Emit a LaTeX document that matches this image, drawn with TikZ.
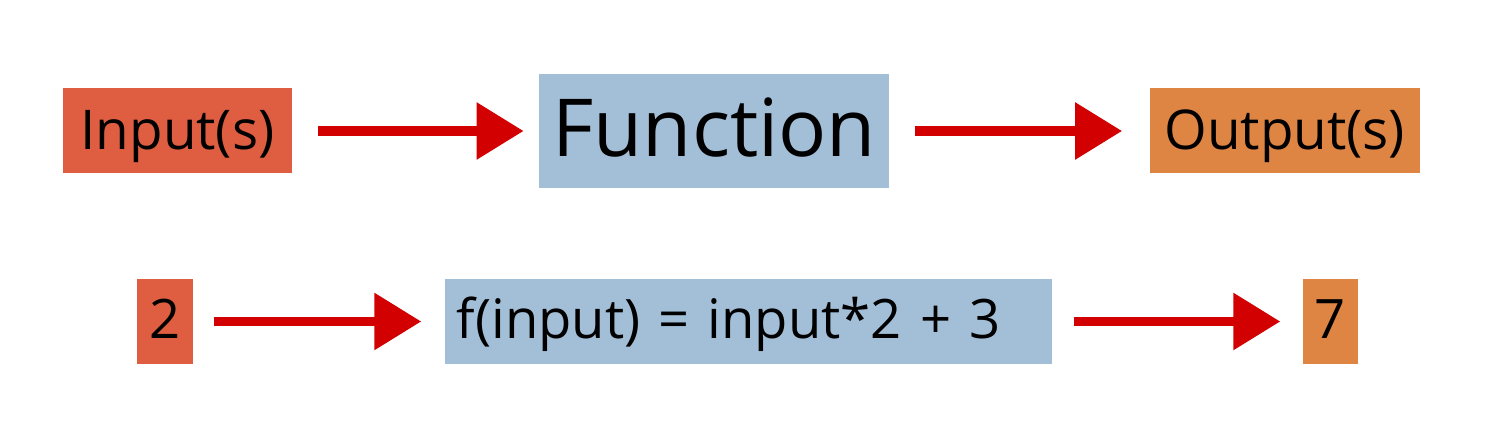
\documentclass[tikz,border=0pt]{standalone}
\usepackage{fontspec}
\setmainfont{Open Sans}
\usetikzlibrary{arrows.meta}
\definecolor{inred}{HTML}{DF5E42}
\definecolor{fnblue}{HTML}{A3BFD8}
\definecolor{outorange}{HTML}{DF8544}
\definecolor{arrowred}{HTML}{D20000}
\begin{document}
\begin{tikzpicture}[x=0.5pt,y=-0.5pt,
  box/.style={inner sep=0pt, font=\fontsize{27.4}{33}\selectfont, text height=30.35pt, text depth=12.15pt, align=center},
  lowbox/.style={box, font=\fontsize{27.2}{33}\selectfont, text height=30pt, text depth=12.85pt},
  bigbox/.style={inner sep=0pt, font=\fontsize{40}{48}\selectfont, text height=41.35pt, text depth=15.8pt, align=center},
  flow/.style={draw=arrowred, line width=4.65pt, -{Triangle[length=23.5pt,width=27.5pt]}}]
\useasboundingbox (0,0) rectangle (1497,443);
% top row
\node[box, fill=inred, minimum width=114.2pt] (in) at (177.5,131) {Input(s)};
\node[bigbox, fill=fnblue, minimum width=175pt] (fn) at (714.3,131) {Function};
\node[box, fill=outorange, minimum width=135.25pt] (out) at (1284.75,131) {Output(s)};
% bottom row
\node[lowbox, fill=inred, minimum width=27.7pt] (two) at (165,321.5) {2};
\node[lowbox, fill=fnblue, inner xsep=5.85pt, text width=291.95pt, align=left] (fx) at (748.65,321.5) {f(input) = input*2 + 3};
\node[lowbox, fill=outorange, minimum width=27.8pt] (seven) at (1330.5,321.5) {7};
% arrows
\draw[flow, shorten <=12.85pt, shorten >=7.65pt] (in.east) -- (fn.west);
\draw[flow, shorten <=12.5pt, shorten >=13.5pt] (fn.east) -- (out.west);
\draw[flow, shorten <=10.65pt, shorten >=11.65pt] (two.east) -- (fx.west);
\draw[flow, shorten <=10.5pt, shorten >=11pt] (fx.east) -- (seven.west);
\end{tikzpicture}
\end{document}
